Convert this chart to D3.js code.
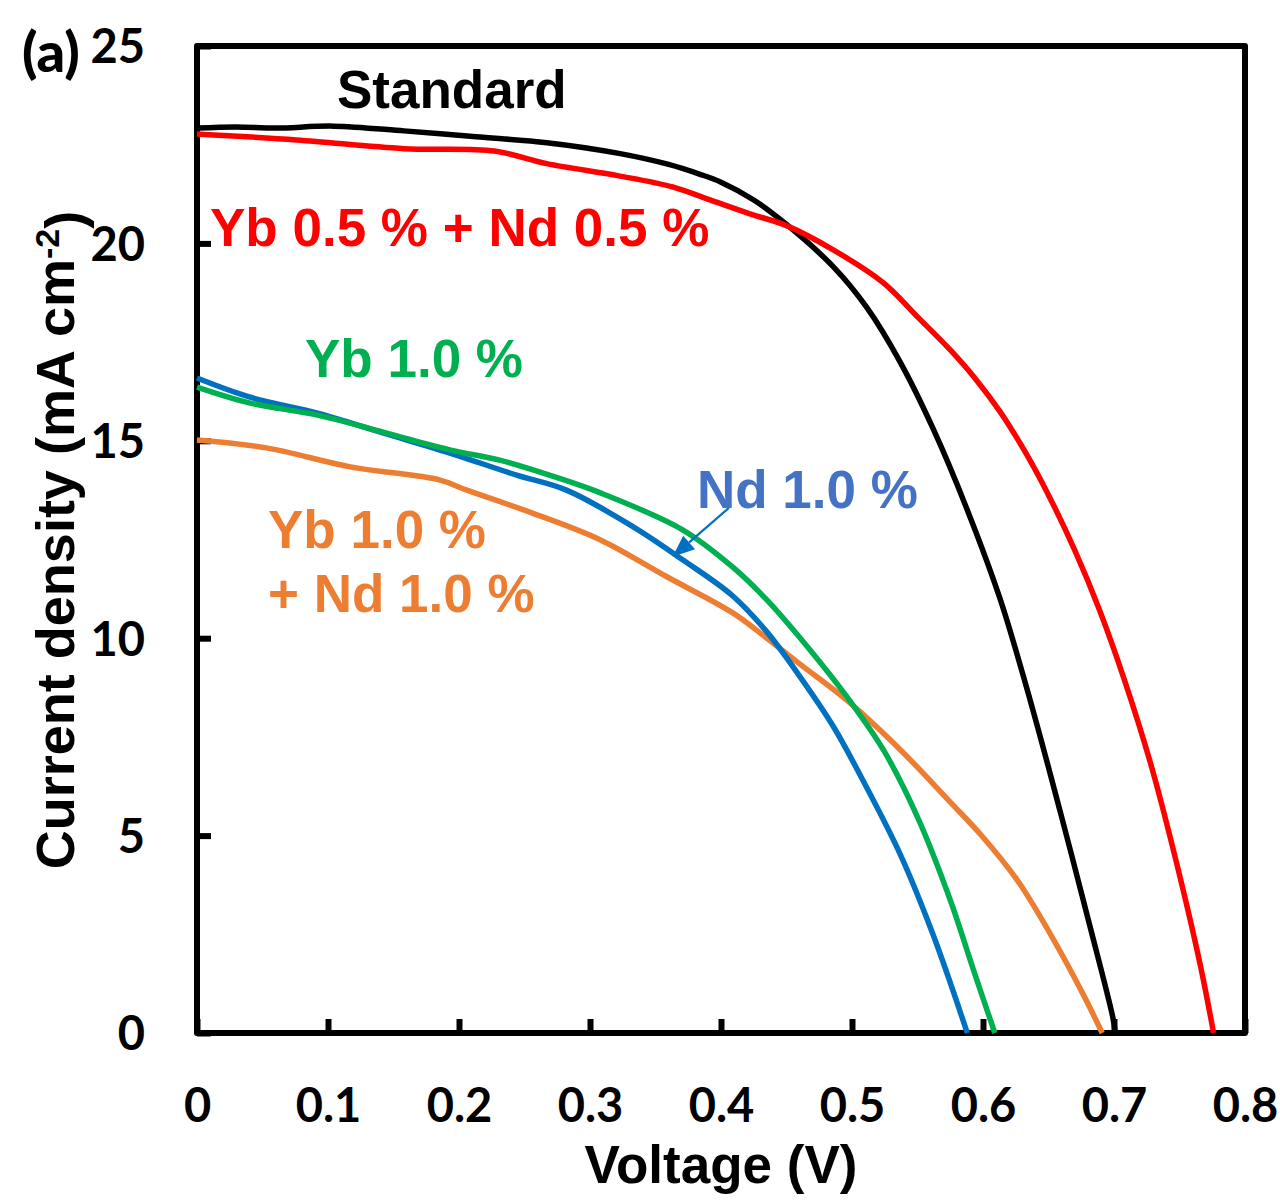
<!DOCTYPE html>
<html>
<head>
<meta charset="utf-8">
<script src="https://cdn.jsdelivr.net/npm/d3@7"></script>
<style>
  html, body { margin: 0; padding: 0; background: #fff; }
  svg { display: block; }
</style>
</head>
<body>
<svg id="chart" width="1280" height="1203"></svg>
<script>
// ---- data (Voltage in V, Current density in mA cm^-2) ----
const stdV  = [0, 0.03, 0.06, 0.104, 0.158, 0.213, 0.267, 0.322, 0.36, 0.384, 0.40, 0.425, 0.450, 0.486, 0.511, 0.537, 0.562, 0.588, 0.613, 0.636, 0.659, 0.682, 0.699, 0.701];
const stdJ  = [22.92, 22.95, 22.92, 22.97, 22.85, 22.70, 22.55, 22.28, 22.00, 21.75, 21.55, 21.10, 20.48, 19.40, 18.39, 16.98, 15.30, 13.25, 11.00, 8.43, 5.60, 2.66, 0.41, 0];

const ybNd05V = [0, 0.076, 0.158, 0.227, 0.267, 0.322, 0.363, 0.390, 0.422, 0.450, 0.486, 0.524, 0.550, 0.575, 0.594, 0.613, 0.632, 0.651, 0.670, 0.689, 0.708, 0.728, 0.747, 0.766, 0.776];
const ybNd05J = [22.77, 22.62, 22.40, 22.34, 22.02, 21.71, 21.43, 21.12, 20.75, 20.45, 19.83, 19.00, 18.14, 17.30, 16.58, 15.74, 14.73, 13.56, 12.23, 10.71, 8.94, 6.82, 4.41, 1.70, 0];

const yb10V = [0, 0.040, 0.092, 0.142, 0.193, 0.231, 0.269, 0.308, 0.371, 0.409, 0.435, 0.468, 0.498, 0.524, 0.550, 0.575, 0.592, 0.609];
const yb10J = [16.36, 15.96, 15.65, 15.22, 14.77, 14.51, 14.13, 13.68, 12.74, 11.80, 10.97, 9.70, 8.43, 7.17, 5.47, 3.37, 1.67, 0];

const nd10V = [0, 0.040, 0.092, 0.142, 0.193, 0.244, 0.282, 0.333, 0.371, 0.409, 0.435, 0.460, 0.486, 0.511, 0.537, 0.562, 0.588];
const nd10J = [16.59, 16.11, 15.70, 15.20, 14.69, 14.13, 13.75, 12.82, 11.98, 11.07, 10.16, 9.04, 7.75, 6.23, 4.51, 2.48, 0];

const ybNd10V = [0, 0.053, 0.117, 0.185, 0.206, 0.256, 0.308, 0.359, 0.409, 0.435, 0.460, 0.496, 0.537, 0.575, 0.600, 0.626, 0.651, 0.676, 0.691];
const ybNd10J = [15.02, 14.82, 14.34, 14.01, 13.75, 13.17, 12.49, 11.55, 10.64, 10.00, 9.35, 8.43, 7.17, 5.85, 4.96, 3.88, 2.53, 1.01, 0];

const xTicks = [0, 0.1, 0.2, 0.3, 0.4, 0.5, 0.6, 0.7, 0.8];
const yTicks = [0, 5, 10, 15, 20, 25];
const xTickLabels = ["0", "0.1", "0.2", "0.3", "0.4", "0.5", "0.6", "0.7", "0.8"];
const yTickLabels = ["0", "5", "10", "15", "20", "25"];

const seriesNames  = ["Standard", "Yb 0.5 % + Nd 0.5 %", "Yb 1.0 %", "Nd 1.0 %", "Yb 1.0 % + Nd 1.0 %"];
const seriesColors = ["#000000", "#ff0000", "#00b050", "#0070c0", "#ed7d31"];

const series = [
  {name: seriesNames[0], color: seriesColors[0], v: stdV,    j: stdJ},
  {name: seriesNames[1], color: seriesColors[1], v: ybNd05V, j: ybNd05J},
  {name: seriesNames[2], color: seriesColors[2], v: yb10V,   j: yb10J},
  {name: seriesNames[3], color: seriesColors[3], v: nd10V,   j: nd10J},
  {name: seriesNames[4], color: seriesColors[4], v: ybNd10V, j: ybNd10J}
];

// ---- layout ----
const W = 1280, H = 1203;
const margin = {left: 197, top: 46, right: 35, bottom: 170};
const pw = W - margin.left - margin.right;   // 1048
const ph = H - margin.top - margin.bottom;   // 987

const svg = d3.select("#chart");
const g = svg.append("g").attr("transform", `translate(${margin.left},${margin.top})`);

const x = d3.scaleLinear().domain([0, 0.8]).range([0, pw]);
const y = d3.scaleLinear().domain([0, 25]).range([ph, 0]);

const tickFont = "Lato, 'Open Sans', sans-serif";
const labelFont = "'Liberation Sans', Arial, sans-serif";

// x axis
const xAxis = d3.axisBottom(x).tickValues(xTicks)
  .tickFormat((d, i) => xTickLabels[i])
  .tickSizeInner(-14).tickSizeOuter(0);
const gx = g.append("g").attr("transform", `translate(0,${ph})`).call(xAxis);
gx.select(".domain").remove();
gx.selectAll(".tick line").attr("stroke", "#000").attr("stroke-width", 6);
gx.selectAll(".tick text")
  .attr("y", 89).attr("dy", 0)
  .attr("fill", "#000")
  .style("font-family", tickFont).style("font-weight", 700).style("font-size", "47px");

// y axis
const yAxis = d3.axisLeft(y).tickValues(yTicks)
  .tickFormat((d, i) => yTickLabels[i])
  .tickSizeInner(-14).tickSizeOuter(0);
const gy = g.append("g").call(yAxis);
gy.select(".domain").remove();
gy.selectAll(".tick line").attr("stroke", "#000").attr("stroke-width", 6);
gy.selectAll(".tick text")
  .attr("x", -52).attr("dy", "0.36em")
  .attr("fill", "#000")
  .style("font-family", tickFont).style("font-weight", 700).style("font-size", "47px");

// frame
g.append("rect")
  .attr("x", 0).attr("y", 0).attr("width", pw).attr("height", ph)
  .attr("fill", "none").attr("stroke", "#000").attr("stroke-width", 6)
  .attr("stroke-linejoin", "round");

// curves
const line = d3.line()
  .x(d => x(d[0])).y(d => y(d[1]))
  .curve(d3.curveCatmullRom.alpha(0.5));

const order = [4, 3, 2, 0, 1];
order.forEach(i => {
  const s = series[i];
  const pts = s.v.map((v, k) => [v, s.j[k]]);
  g.append("path")
    .datum(pts)
    .attr("d", line)
    .attr("fill", "none")
    .attr("stroke", s.color)
    .attr("stroke-width", 5.5)
    .attr("stroke-linejoin", "round");
});

// series labels
function label(txt, px, py, color) {
  svg.append("text")
    .attr("x", px).attr("y", py)
    .attr("fill", color)
    .style("font-family", labelFont).style("font-weight", 700).style("font-size", "53px")
    .text(txt);
}
label("Standard", 337, 108, "#000000");
label("Yb 0.5 % + Nd 0.5 %", 210, 246, "#ff0000");
label("Yb 1.0 %", 305, 377, "#00b050");
label("Nd 1.0 %", 697, 508, "#4472c4");
label("Yb 1.0 %", 268, 548, "#ed7d31");
label("+ Nd 1.0 %", 268, 612, "#ed7d31");

// arrow for Nd 1.0 %
const arrowFrom = [0.406, 13.30];
const arrowTo   = [0.363, 12.06];
const ax0 = x(arrowFrom[0]), ay0 = y(arrowFrom[1]);
const ax1 = x(arrowTo[0]),   ay1 = y(arrowTo[1]);
const ang = Math.atan2(ay1 - ay0, ax1 - ax0);
const hl = 22, hw = 9;
const bx = ax1 - hl * Math.cos(ang), by = ay1 - hl * Math.sin(ang);
g.append("line")
  .attr("x1", ax0).attr("y1", ay0).attr("x2", bx).attr("y2", by)
  .attr("stroke", "#0070c0").attr("stroke-width", 2.2);
g.append("path")
  .attr("d", `M${ax1},${ay1} L${bx + hw * Math.sin(ang)},${by - hw * Math.cos(ang)} L${bx - hw * Math.sin(ang)},${by + hw * Math.cos(ang)} Z`)
  .attr("fill", "#0070c0");

// panel label
svg.append("text")
  .attr("x", 22).attr("y", 72)
  .attr("fill", "#000")
  .style("font-family", tickFont).style("font-weight", 900).style("font-size", "56px")
  .text("(a)");

// axis titles
svg.append("text")
  .attr("x", margin.left + pw / 2).attr("y", 1183)
  .attr("text-anchor", "middle")
  .attr("fill", "#000")
  .style("font-family", labelFont).style("font-weight", 700).style("font-size", "53px")
  .text("Voltage (V)");

const yt = svg.append("text")
  .attr("transform", "translate(74,540) rotate(-90)")
  .attr("text-anchor", "middle")
  .attr("fill", "#000")
  .style("font-family", labelFont).style("font-weight", 700).style("font-size", "54px");
yt.append("tspan").text("Current density (mA cm");
yt.append("tspan").attr("dy", "-0.45em").style("font-size", "34px").text("-2");
yt.append("tspan").attr("dy", "0.45em").text(")");
</script>
</body>
</html>
